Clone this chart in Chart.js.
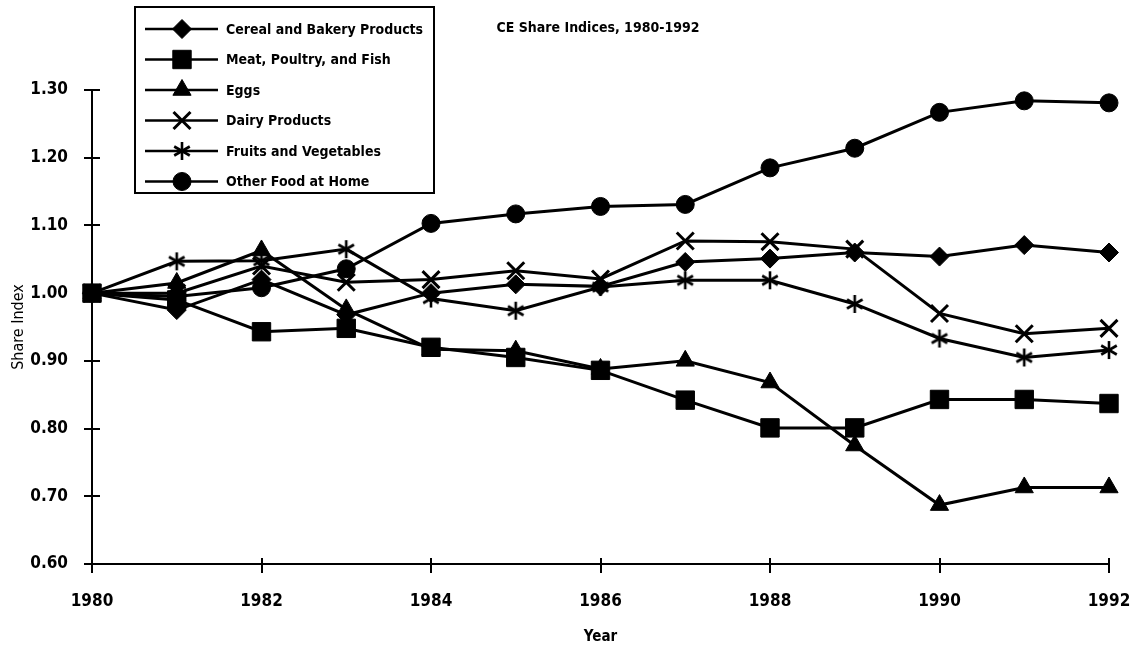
<!DOCTYPE html>
<html>
<head>
<meta charset="utf-8">
<script src="https://cdn.jsdelivr.net/npm/chart.js@4.4.1/dist/chart.umd.min.js"></script>
<style>
  html, body { margin: 0; padding: 0; background: #fff; }
  #wrap { width: 1139px; height: 646px; }
</style>
</head>
<body>
<div id="wrap"><canvas id="shareChart" width="1139" height="646"></canvas></div>
<script>
const years = [1980, 1981, 1982, 1983, 1984, 1985, 1986, 1987, 1988, 1989, 1990, 1991, 1992];

const cereal = [1.000, 0.975, 1.020, 0.968, 1.000, 1.013, 1.010, 1.046, 1.051, 1.060, 1.054, 1.071, 1.060];
const meat   = [1.000, 0.990, 0.943, 0.948, 0.920, 0.905, 0.886, 0.842, 0.801, 0.801, 0.843, 0.843, 0.837];
const eggs   = [1.000, 1.015, 1.063, 0.976, 0.917, 0.915, 0.888, 0.900, 0.868, 0.775, 0.687, 0.713, 0.713];
const dairy  = [1.000, 1.000, 1.040, 1.016, 1.020, 1.033, 1.021, 1.077, 1.076, 1.065, 0.970, 0.940, 0.948];
const fruits = [1.000, 1.047, 1.048, 1.065, 0.992, 0.974, 1.009, 1.019, 1.019, 0.984, 0.933, 0.905, 0.916];
const other  = [1.000, 0.995, 1.008, 1.036, 1.103, 1.117, 1.128, 1.131, 1.185, 1.214, 1.267, 1.284, 1.281];

const seriesNames = [
  'Cereal and Bakery Products',
  'Meat, Poultry, and Fish',
  'Eggs',
  'Dairy Products',
  'Fruits and Vegetables',
  'Other Food at Home'
];

const chartTitle = 'CE Share Indices, 1980-1992';
const yTitle = 'Share Index';
const xTitle = 'Year';

const NARROW = '"Liberation Sans Narrow", "DejaVu Sans Condensed", sans-serif';

// six-spoke asterisk marker, the library has only an eight-spoke one
function makeAsterisk(r) {
  const c = document.createElement('canvas');
  c.width = r * 2 + 4;
  c.height = r * 2 + 4;
  const g = c.getContext('2d');
  g.strokeStyle = '#000';
  g.lineWidth = 2.6;
  const cx = c.width / 2, cy = c.height / 2;
  [90, 30, 150].forEach(function(a) {
    const t = a * Math.PI / 180;
    g.beginPath();
    g.moveTo(cx - Math.cos(t) * r, cy - Math.sin(t) * r);
    g.lineTo(cx + Math.cos(t) * r, cy + Math.sin(t) * r);
    g.stroke();
  });
  return c;
}
const asterisk = makeAsterisk(9);

function toPoints(vals) {
  return vals.map(function(v, i) { return { x: years[i], y: v }; });
}

function lineSet(label, vals, style, radius, extra) {
  return Object.assign({
    label: label,
    data: toPoints(vals),
    borderColor: '#000',
    backgroundColor: '#000',
    borderWidth: 3,
    pointStyle: style,
    pointRadius: radius,
    pointBorderWidth: 1,
    pointBackgroundColor: '#000',
    pointBorderColor: '#000',
    tension: 0,
    clip: false
  }, extra || {});
}

// legend box, chart title and the tick marks (they cross the axis lines)
const decorations = {
  id: 'decorations',
  afterDraw: function(chart) {
    const ctx = chart.ctx;
    const xs = chart.scales.x, ys = chart.scales.y;
    ctx.save();

    ctx.strokeStyle = '#000';
    ctx.lineWidth = 2;
    ys.ticks.forEach(function(t) {
      const py = Math.round(ys.getPixelForValue(t.value));
      ctx.beginPath();
      ctx.moveTo(xs.left, py);
      ctx.lineTo(xs.left + 8, py);
      ctx.stroke();
    });
    xs.ticks.forEach(function(t) {
      const px = Math.round(xs.getPixelForValue(t.value));
      ctx.beginPath();
      ctx.moveTo(px, ys.bottom + 9);
      ctx.lineTo(px, ys.bottom - 6);
      ctx.stroke();
    });

    ctx.fillStyle = '#000';
    ctx.font = 'bold 14px ' + NARROW;
    ctx.textAlign = 'center';
    ctx.textBaseline = 'middle';
    ctx.fillText(chartTitle, 598, 28);

    const bx = 135, by = 7, bw = 299, bh = 186;
    ctx.fillStyle = '#fff';
    ctx.fillRect(bx, by, bw, bh);
    ctx.lineWidth = 2;
    ctx.strokeRect(bx, by, bw, bh);

    ctx.font = 'bold 14px ' + NARROW;
    ctx.textAlign = 'left';
    chart.data.datasets.forEach(function(ds, i) {
      const y = 29 + i * 30.5;
      ctx.strokeStyle = '#000';
      ctx.lineWidth = 2.5;
      ctx.beginPath();
      ctx.moveTo(145, y);
      ctx.lineTo(218, y);
      ctx.stroke();
      ctx.fillStyle = '#000';
      ctx.lineWidth = ds.pointBorderWidth;
      Chart.helpers.drawPoint(ctx, {
        pointStyle: ds.pointStyle,
        radius: ds.pointRadius,
        rotation: 0,
        borderWidth: ds.pointBorderWidth
      }, 182, y);
      ctx.fillStyle = '#000';
      ctx.fillText(ds.label, 226, y + 1);
    });
    ctx.restore();
  }
};

new Chart(document.getElementById('shareChart').getContext('2d'), {
  type: 'line',
  data: {
    datasets: [
      lineSet(seriesNames[0], cereal, 'rectRot', 9.5),
      lineSet(seriesNames[1], meat, 'rect', 13),
      lineSet(seriesNames[2], eggs, 'triangle', 10.5),
      lineSet(seriesNames[3], dairy, 'crossRot', 12, { pointBorderWidth: 3 }),
      lineSet(seriesNames[4], fruits, asterisk, 10),
      lineSet(seriesNames[5], other, 'circle', 9)
    ]
  },
  options: {
    responsive: false,
    animation: false,
    devicePixelRatio: 1,
    layout: { padding: { top: 90, right: 30, left: 0, bottom: 0 } },
    plugins: {
      legend: { display: false },
      title: { display: false },
      tooltip: { enabled: false }
    },
    scales: {
      x: {
        type: 'linear',
        min: 1980,
        max: 1992,
        afterFit: function(s) { s.height = 82; },
        ticks: {
          stepSize: 2,
          color: '#000',
          padding: 8,
          font: { family: NARROW, size: 17, weight: 'bold' },
          callback: function(v) { return String(v); }
        },
        grid: { drawOnChartArea: false, tickLength: 19, tickColor: 'rgba(0,0,0,0)', lineWidth: 2 },
        border: { color: '#000', width: 2 },
        title: {
          display: true,
          text: xTitle,
          color: '#000',
          padding: { top: 0, bottom: 0 },
          font: { family: NARROW, size: 15, weight: 'bold' }
        }
      },
      y: {
        min: 0.6,
        max: 1.3,
        afterFit: function(s) { s.width = 92; },
        ticks: {
          stepSize: 0.1,
          color: '#000',
          padding: 16,
          font: { family: NARROW, size: 17, weight: 'bold' },
          callback: function(v) { return v.toFixed(2); }
        },
        grid: { drawOnChartArea: false, tickLength: 8, color: '#000', lineWidth: 2 },
        border: { color: '#000', width: 2 },
        title: {
          display: true,
          text: yTitle,
          color: '#000',
          padding: { top: 9, bottom: 0 },
          font: { family: NARROW, size: 16 }
        }
      }
    }
  },
  plugins: [decorations]
});
</script>
</body>
</html>
